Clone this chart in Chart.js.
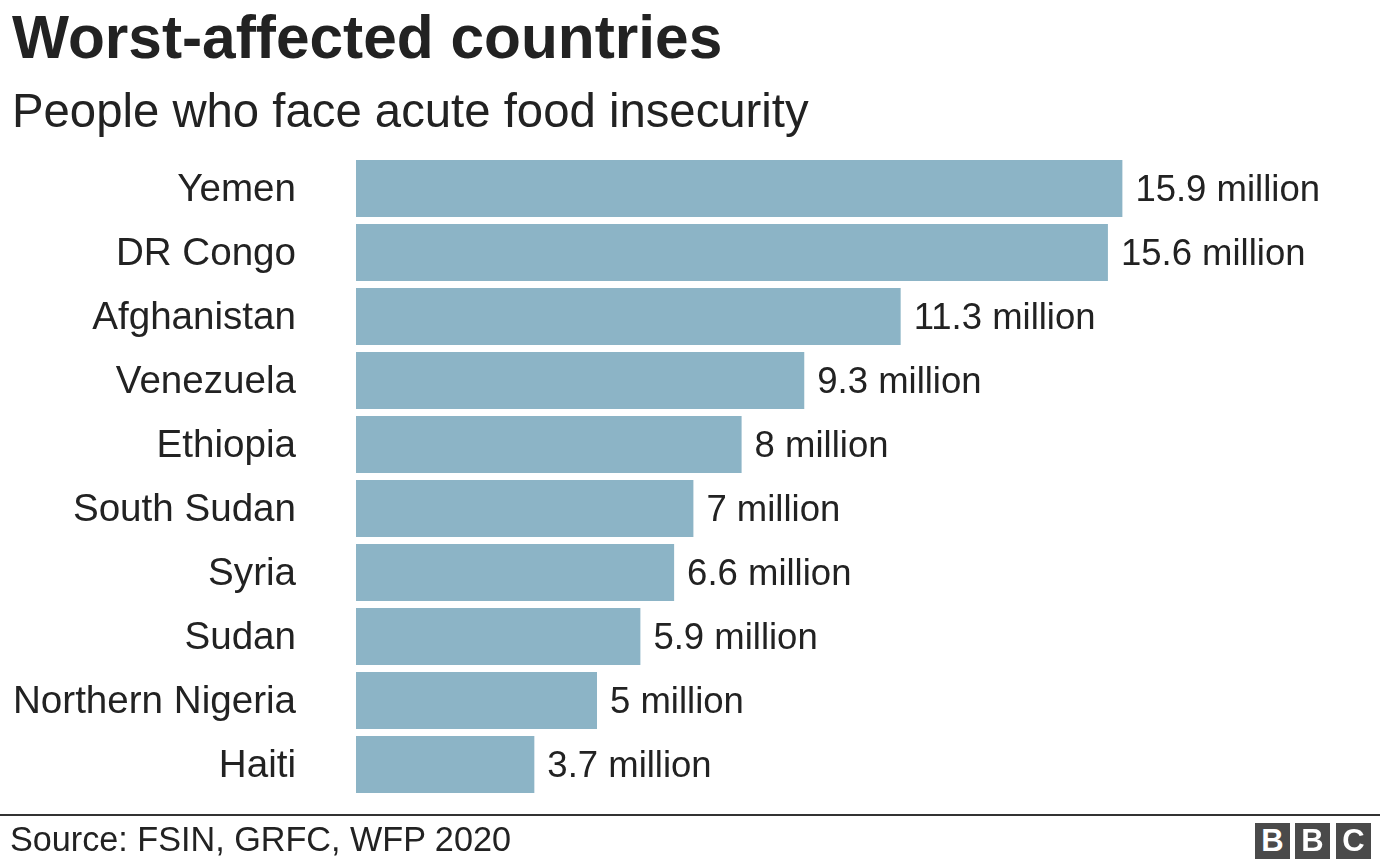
<!DOCTYPE html>
<html>
<head>
<meta charset="utf-8">
<script src="https://cdn.jsdelivr.net/npm/chart.js@4"></script>
<style>
    body { margin: 0; background: #fff; font-family: "Liberation Sans", Arial, sans-serif; color: #222; }
    #wrap { position: relative; width: 1380px; height: 862px; overflow: hidden; }
    #chart { position: absolute; left: 0; top: 0; }
    .txt { position: absolute; white-space: nowrap; }
    #title { left: 12px; top: 7px; font-size: 60.4px; line-height: 60px; font-weight: bold; }
    #subtitle { left: 12px; top: 87px; font-size: 47.3px; line-height: 47px; }
    #rule { position: absolute; left: 0; top: 814px; width: 1380px; height: 2px; background: #333; }
    #source { left: 10px; top: 822px; font-size: 34.2px; line-height: 34px; }
    .bbc { position: absolute; top: 823px; width: 35px; height: 36px; background: #4a4a4a; color: #fff;
           font-weight: bold; font-size: 31px; line-height: 36px; text-align: center; }
</style>
</head>
<body>
<div id="wrap">
    <canvas id="chart" width="1380" height="862"></canvas>
    <div class="txt" id="title">Worst-affected countries</div>
    <div class="txt" id="subtitle">People who face acute food insecurity</div>
    <div id="rule"></div>
    <div class="txt" id="source">Source: FSIN, GRFC, WFP 2020</div>
    <div class="bbc" style="left:1255px">B</div>
    <div class="bbc" style="left:1295px">B</div>
    <div class="bbc" style="left:1336px">C</div>
</div>
<script>
// 國家與數值（百萬人）
const countries = ['Yemen', 'DR Congo', 'Afghanistan', 'Venezuela', 'Ethiopia',
    'South Sudan', 'Syria', 'Sudan', 'Northern Nigeria', 'Haiti'];
const peopleMillions = [15.9, 15.6, 11.3, 9.3, 8, 7, 6.6, 5.9, 5, 3.7];
const valueLabels = ['15.9 million', '15.6 million', '11.3 million', '9.3 million', '8 million',
    '7 million', '6.6 million', '5.9 million', '5 million', '3.7 million'];

// 在長條末端畫數值
const endLabels = {
    id: 'endLabels',
    afterDatasetsDraw(chart) {
        const ctx = chart.ctx;
        const meta = chart.getDatasetMeta(0);
        ctx.save();
        ctx.font = '36.5px "Liberation Sans", Arial, sans-serif';
        ctx.fillStyle = '#222';
        ctx.textAlign = 'left';
        ctx.textBaseline = 'middle';
        meta.data.forEach((bar, i) => {
            ctx.fillText(valueLabels[i], bar.x + 13, bar.y + 2);
        });
        ctx.restore();
    }
};

const bgWhite = {
    id: 'bgWhite',
    beforeDraw(chart) {
        const ctx = chart.ctx;
        ctx.save();
        ctx.fillStyle = '#fff';
        ctx.fillRect(0, 0, chart.width, chart.height);
        ctx.restore();
    }
};

new Chart(document.getElementById('chart'), {
    type: 'bar',
    data: {
        labels: countries,
        datasets: [{
            data: peopleMillions,
            backgroundColor: '#8cb4c6',
            borderWidth: 0,
            barPercentage: 0.89,
            categoryPercentage: 1
        }]
    },
    options: {
        indexAxis: 'y',
        responsive: false,
        maintainAspectRatio: false,
        animation: false,
        layout: { padding: { left: 0, right: 60, top: 156.5, bottom: 65.5 } },
        plugins: { legend: { display: false }, tooltip: { enabled: false } },
        scales: {
            x: { display: false, min: 0, max: 20 },
            y: {
                grid: { display: false, drawTicks: false },
                border: { display: false },
                afterFit(scale) {
                    scale.width = 356;
                    scale.paddingTop = 0;
                    scale.paddingBottom = 0;
                },
                ticks: {
                    padding: 60,
                    labelOffset: 2,
                    color: '#222',
                    font: { family: '"Liberation Sans", Arial, sans-serif', size: 38.6 }
                }
            }
        }
    },
    plugins: [bgWhite, endLabels]
});
</script>
</body>
</html>
